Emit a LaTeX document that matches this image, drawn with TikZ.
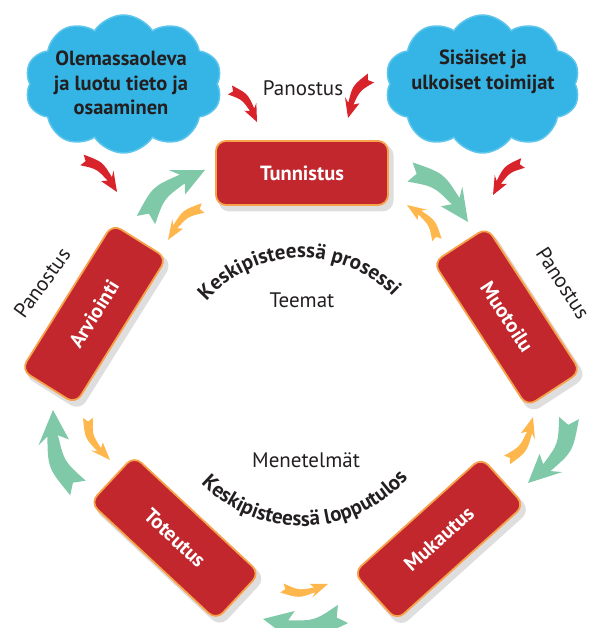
\documentclass[tikz,border=0pt]{standalone}
\usepackage{fontspec}
\setmainfont{PT Sans}
\usetikzlibrary{shapes.symbols,decorations.text,calc}

\definecolor{boxred}{HTML}{C1272D}
\definecolor{boxrim}{HTML}{F7A14B}
\definecolor{cloudblue}{HTML}{35B5E5}
\definecolor{cloudrim}{HTML}{5EC5EC}
\definecolor{arrgreen}{HTML}{7FC9A9}
\definecolor{arrorange}{HTML}{FDB74D}
\definecolor{arrred}{HTML}{D9232B}
\definecolor{ink}{HTML}{231F20}

% point of the swoosh template: name, centre u, centre v, width du, width dv
\newcommand\swpt[5]{%
  \coordinate (sw#1) at ({\swax+((#2)+\sww*(#4))*(\swdx)-(\sws)*((#3)+\sww*(#5))*(\swdy)},
                         {\sway+((#2)+\sww*(#4))*(\swdy)+(\sws)*((#3)+\sww*(#5))*(\swdx)});}
% curved arrow: colour, tail x, tail y, tip x, tip y, bend sign, width factor
\newcommand\swoosh[7]{%
  \pgfmathsetmacro\swax{#2}\pgfmathsetmacro\sway{#3}%
  \pgfmathsetmacro\swdx{#4-(#2)}\pgfmathsetmacro\swdy{#5-(#3)}%
  \def\sws{#6}\def\sww{#7}%
  \swpt{TU}{0}{0}{-0.0563}{0.1171}
  \swpt{TL}{0}{0}{0.0563}{-0.1171}
  \swpt{N}{0}{0}{0.0811}{0.0390}
  \swpt{CU}{0.35}{0.168}{-0.0065}{0.1076}
  \swpt{CL}{0.35}{0.168}{0.0065}{-0.1076}
  \swpt{NU}{0.70}{0.1008}{0.0123}{0.0638}
  \swpt{NL}{0.70}{0.1008}{-0.0123}{-0.0638}
  \swpt{BU}{0.62}{0.1131}{0.0217}{0.1887}
  \swpt{BL}{0.62}{0.1131}{-0.0217}{-0.1887}
  \swpt{T}{1}{0}{0}{0}
  \fill[#1] (swTU) .. controls (swCU) .. (swNU) -- (swBU) -- (swT) -- (swBL) -- (swNL)
     .. controls (swCL) .. (swTL) -- (swN) -- cycle;
}

\begin{document}
\begin{tikzpicture}[x=1pt,y=1pt,
  stagebox/.style={rectangle, rounded corners=10pt, fill=boxred, draw=boxrim, line width=1.8pt,
     minimum width=172pt, minimum height=64pt, text=white,
     font=\fontsize{20.5}{22}\selectfont\bfseries, inner sep=0pt},
  stageshadow/.style={rectangle, rounded corners=11pt, fill=black, opacity=0.13,
     minimum width=175pt, minimum height=67pt, inner sep=0pt},
  cloudshape/.style={cloud, cloud puffs=10, cloud puff arc=115, aspect=1.45,
     fill=cloudblue, draw=cloudrim, line width=1.5pt, inner sep=0pt},
  cloudtext/.style={align=center, text=ink, font=\fontsize{20.5}{24.5}\selectfont\bfseries},
  plain/.style={text=ink, font=\fontsize{21}{24}\selectfont},
  arcfont/.style={},
]
\useasboundingbox (0,0) rectangle (592,628);

% clouds
\node[cloudshape, minimum width=197pt, minimum height=138pt] (cloudL) at (123.5,544) {};
\node[cloudshape, minimum width=195pt, minimum height=138pt] (cloudR) at (482.5,544) {};
\node[cloudtext] (cloudLtext) at (121,545) {Olemassaoleva\\ja luotu tieto ja\\osaaminen};
\node[cloudtext] (cloudRtext) at (483,556) {Sisäiset ja\\ulkoiset toimijat};

% red input arrows
\swoosh{arrred}{230}{538}{257}{506}{1}{0.9}
\swoosh{arrred}{371}{550}{348}{510}{-1}{0.9}
\swoosh{arrred}{82}{468}{117}{436}{1}{0.9}
\swoosh{arrred}{523}{465}{493}{433}{-1}{0.9}

% green outer arrows (clockwise)
\swoosh{arrgreen}{146}{408}{205}{458}{1}{1}
\swoosh{arrgreen}{410}{456}{468}{406}{1}{1}
\swoosh{arrgreen}{569}{210}{528}{145}{1}{1}
\swoosh{arrgreen}{343}{14}{263}{9}{1}{1}
\swoosh{arrgreen}{78}{140}{53}{218}{1}{1}

% orange inner arrows (counter-clockwise)
\swoosh{arrorange}{203}{420}{168}{388}{-1}{0.8}
\swoosh{arrorange}{437}{388}{407}{423}{-1}{0.8}
\swoosh{arrorange}{507}{168}{533}{211}{-1}{0.8}
\swoosh{arrorange}{282}{40}{328}{44}{-1}{0.8}
\swoosh{arrorange}{88}{210}{110}{168}{-1}{0.8}

% shadows
\node[stageshadow] (shTun) at (306,450) {};
\node[stageshadow, rotate=-57] (shMuo) at (511,306) {};
\node[stageshadow, rotate=42] (shMuk) at (443,84) {};
\node[stageshadow, rotate=-43] (shTot) at (179,85) {};
\node[stageshadow, rotate=58] (shArv) at (98,309) {};

% stages
\node[stagebox] (tun) at (302,455) {Tunnistus};
\node[stagebox, rotate=-57] (muo) at (507,311) {Muotoilu};
\node[stagebox, rotate=42] (muk) at (439,89) {Mukautus};
\node[stagebox, rotate=-43] (tot) at (175,90) {Toteutus};
\node[stagebox, rotate=58] (arv) at (94,314) {Arviointi};

% labels
\node[plain] (panT) at (303,540) {Panostus};
\node[plain, rotate=54] (panL) at (42,345) {Panostus};
\node[plain, rotate=-57] (panR) at (563,345) {Panostus};
\node[plain] (teemat) at (302,328) {Teemat};
\node[plain] (menet) at (306,168) {Menetelmät};

\coordinate (ctr) at (302,243);
\path[decorate, decoration={text along path, text align=center,
   text={|\fontsize{21}{21}\selectfont\bfseries\color{ink}|Keskipisteessä prosessi}}]
   ($(ctr)+(151.5:127)$) arc[start angle=151.5, end angle=31.5, radius=127];
\path[decorate, decoration={text along path, text align=center,
   text={|\fontsize{21}{21}\selectfont\bfseries\color{ink}|Keskipisteessä lopputulos}}]
   ($(ctr)+(211.5:141)$) arc[start angle=211.5, end angle=331.5, radius=141];
\end{tikzpicture}
\end{document}
